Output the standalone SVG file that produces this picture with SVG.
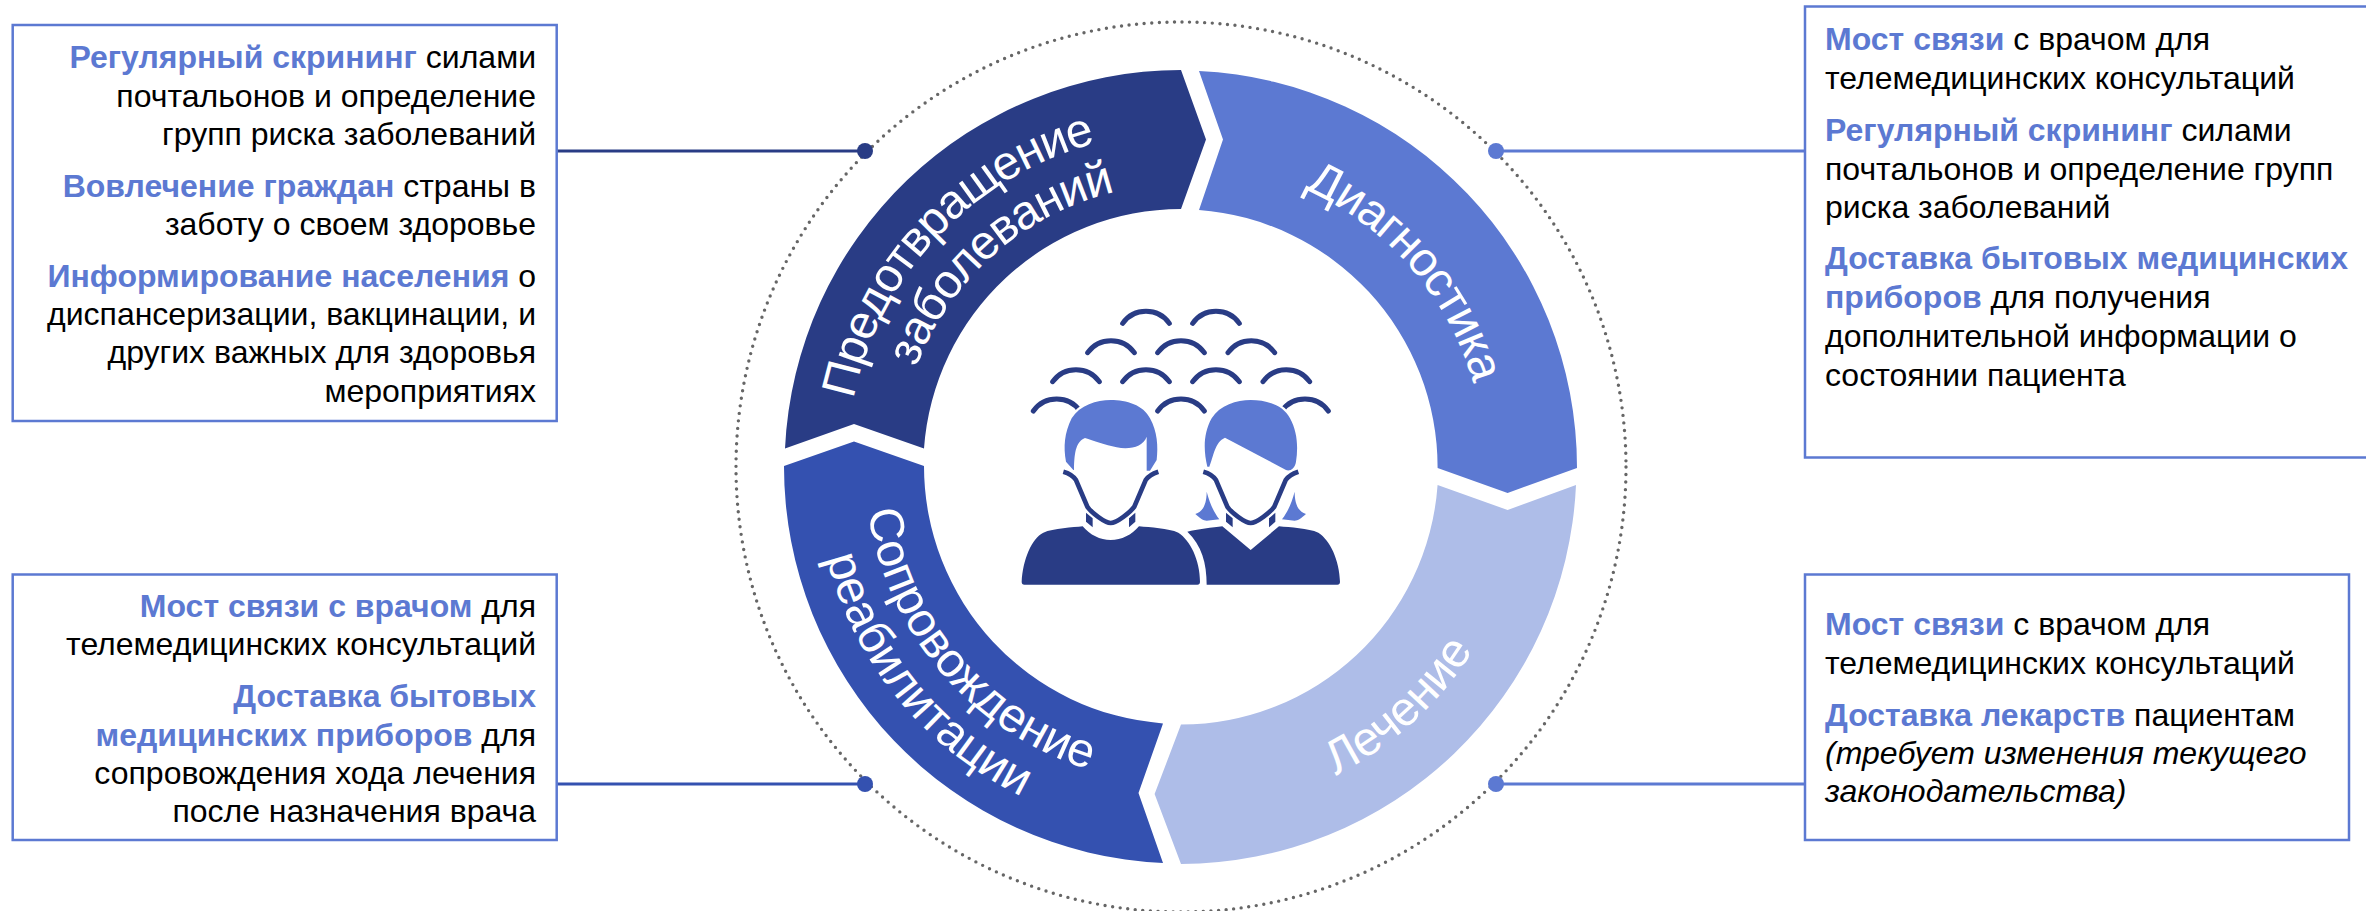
<svg xmlns="http://www.w3.org/2000/svg" xmlns:xlink="http://www.w3.org/1999/xlink" width="2366" height="911" viewBox="0 0 2366 911">
<style>
text{font-family:"Liberation Sans",Arial,sans-serif;font-size:32px;fill:#000}
.b{font-weight:700;fill:#5c79d2}
.r{text-anchor:end}
.box{fill:#fff;stroke:#5c79d2;stroke-width:2.5}
.w{font-size:48px;fill:#fff;text-anchor:middle}
.t{letter-spacing:-1.2px}
.c{fill:none;stroke-width:3}
.ic{fill:none;stroke:#293c85;stroke-width:15;stroke-linecap:round}
</style>
<defs>
<path id="p1" d="M846.6 476.4A335 335 0 0 1 1171.6 132.1"/>
<path id="p2" d="M898.8 446.9A283 283 0 0 1 1195.4 184.4"/>
<path id="p3" d="M1201.2 163.7A304 304 0 0 1 1484.3 488.2"/>
<path id="p4" d="M1164.7 811.6A345 345 0 0 0 1525.6 483.3"/>
<path id="p5" d="M866 442.2A316 316 0 0 0 1156.2 782"/>
<path id="p6" d="M816.8 430.6A366 366 0 0 0 1144.6 831.2"/>
<path id="arc" d="M0 0a86 86 0 0 1 140 0"/>
<g id="jaw">
<path d="M250 545C268 550 280 558 288 570L322 650C332 666 375 699 392 699C410 699 452 666 463 650L497 570C505 558 520 550 535 545" fill="none" stroke="#293c85" stroke-width="14"/>
<path d="M318 668L338 685V712L318 695ZM466 668L447 685V712L466 695Z" fill="#293c85"/>
</g>
</defs>
<circle id="ring" cx="1181" cy="467" r="445" fill="none" stroke="#666" stroke-width="3.4" stroke-linecap="round" stroke-dasharray="0 7.6"/>
<g id="connectors">
<path class="c" stroke="#293c85" d="M557 151H865"/>
<path class="c" stroke="#5c79d2" d="M1496 151H1805"/>
<path class="c" stroke="#3451b0" d="M556 784H865"/>
<path class="c" stroke="#5c79d2" d="M1496 784H1805"/>
<circle cx="865" cy="151" r="8" fill="#293c85"/>
<circle cx="1496" cy="151" r="8" fill="#5c79d2"/>
<circle cx="865" cy="784" r="8" fill="#3451b0"/>
<circle cx="1496" cy="784" r="8" fill="#5c79d2"/>
</g>
<g id="seg-prevention">
<path fill="#293c85" d="M1181 70L1206 139.5L1181 209A258 258 0 0 0 924 448.6L854 424L785 448.6A397 397 0 0 1 1181 70Z"/>
<text class="w t"><textPath xlink:href="#p1" href="#p1" startOffset="50%">Предотвращение</textPath></text>
<text class="w t"><textPath xlink:href="#p2" href="#p2" startOffset="50%">заболеваний</textPath></text>
</g>
<g id="seg-diagnostics">
<path fill="#5c79d2" d="M1199 71L1223 139.5L1199 210A258 258 0 0 1 1437.6 468L1507.6 493L1577 468A397 397 0 0 0 1199 71Z"/>
<text class="w t"><textPath xlink:href="#p3" href="#p3" startOffset="50%">Диагностика</textPath></text>
</g>
<g id="seg-treatment">
<path fill="#aebde8" d="M1437.6 485L1507.6 510L1576 485A397 397 0 0 1 1181 864L1154.6 794L1181 724.6A258 258 0 0 0 1437.6 485Z"/>
<text class="w"><textPath xlink:href="#p4" href="#p4" startOffset="50%">Лечение</textPath></text>
</g>
<g id="seg-rehab">
<path fill="#3451b0" d="M784 466L854 441.6L924 466A258 258 0 0 0 1163 723.4L1138.5 793L1163 863A397 397 0 0 1 784 466Z"/>
<text class="w"><textPath xlink:href="#p5" href="#p5" startOffset="50%">Сопровождение</textPath></text>
<text class="w"><textPath xlink:href="#p6" href="#p6" startOffset="50%">реабилитации</textPath></text>
</g>
<g id="people" transform="translate(980 290) scale(.33333)">
<g class="ic">
<use href="#arc" x="428" y="100"/><use href="#arc" x="638" y="100"/>
<use href="#arc" x="323" y="188"/><use href="#arc" x="533" y="188"/><use href="#arc" x="744" y="188"/>
<use href="#arc" x="218" y="275"/><use href="#arc" x="428" y="275"/><use href="#arc" x="638" y="275"/><use href="#arc" x="849" y="275"/>
<use href="#arc" x="160" y="363"/><use href="#arc" x="533" y="363"/><use href="#arc" x="905" y="363"/>
</g>
<path fill="#5c79d2" stroke="#fff" stroke-width="14" paint-order="stroke" d="M280 540L258 515C250 470 253 430 275 385C300 345 350 330 392 330C440 330 490 345 510 385C532 425 535 470 530 510L510 542H500V440C490 470 450 480 410 472C375 465 340 452 315 444C290 455 283 480 282 540Z"/>
<path fill="#5c79d2" stroke="#fff" stroke-width="14" paint-order="stroke" d="M682 530C670 480 670 430 695 385C720 345 770 330 812 330C860 330 910 345 930 385C952 425 955 470 948 515C945 535 930 545 918 540L735 443C705 455 700 500 688 530Z"/>
<path fill="#5c79d2" d="M680 605C680 640 670 665 646 672C660 685 670 692 680 692L718 688C700 665 690 640 680 605ZM944 605C944 640 954 665 978 672C964 685 954 692 944 692L906 688C924 665 934 640 944 605Z"/>
<use href="#jaw"/>
<use href="#jaw" x="420"/>
<path fill="#293c85" d="M125 875C128 810 155 745 190 728C220 715 280 712 308 709C330 735 360 750 392 750C425 750 455 735 477 709C510 712 565 715 595 728C630 750 660 810 660 875Q660 884 652 884H133Q125 884 125 875Z"/>
<path fill="#293c85" d="M622 725C650 718 700 712 727 709L812 780L897 709C930 712 985 715 1015 728C1050 750 1078 810 1080 875Q1080 884 1072 884H680C680 820 665 765 622 725Z"/>
</g>
<g id="box-tl">
<rect class="box" x="12.7" y="25" width="544" height="396"/>
<text class="r" x="536" y="68"><tspan class="b">Регулярный скрининг</tspan> силами</text>
<text class="r" x="536" y="106.7">почтальонов и определение</text>
<text class="r" x="536" y="145">групп риска заболеваний</text>
<text class="r" x="536" y="196.7"><tspan class="b">Вовлечение граждан</tspan> страны в</text>
<text class="r" x="536" y="235">заботу о своем здоровье</text>
<text class="r" x="536" y="286.7"><tspan class="b">Информирование населения</tspan> о</text>
<text class="r" x="536" y="325">диспансеризации, вакцинации, и</text>
<text class="r" x="536" y="363">других важных для здоровья</text>
<text class="r" x="536" y="401.7">мероприятиях</text>
</g>
<g id="box-tr">
<rect class="box" x="1805" y="6.5" width="600" height="451"/>
<text x="1825" y="50"><tspan class="b">Мост связи</tspan> с врачом для</text>
<text x="1825" y="89.3">телемедицинских консультаций</text>
<text x="1825" y="141"><tspan class="b">Регулярный скрининг</tspan> силами</text>
<text x="1825" y="180">почтальонов и определение групп</text>
<text x="1825" y="218.3">риска заболеваний</text>
<text x="1825" y="269.3" class="b">Доставка бытовых медицинских</text>
<text x="1825" y="308.3"><tspan class="b">приборов</tspan> для получения</text>
<text x="1825" y="346.7">дополнительной информации о</text>
<text x="1825" y="385.7">состоянии пациента</text>
</g>
<g id="box-bl">
<rect class="box" x="12.7" y="574.5" width="544" height="265.5"/>
<text class="r" x="536" y="616.7"><tspan class="b">Мост связи с врачом</tspan> для</text>
<text class="r" x="536" y="655">телемедицинских консультаций</text>
<text class="r b" x="536" y="706.7">Доставка бытовых</text>
<text class="r" x="536" y="745.7"><tspan class="b">медицинских приборов</tspan> для</text>
<text class="r" x="536" y="784">сопровождения хода лечения</text>
<text class="r" x="536" y="821.7">после назначения врача</text>
</g>
<g id="box-br">
<rect class="box" x="1805" y="574.5" width="544" height="265.5"/>
<text x="1825" y="635"><tspan class="b">Мост связи</tspan> с врачом для</text>
<text x="1825" y="674.3">телемедицинских консультаций</text>
<text x="1825" y="725.7"><tspan class="b">Доставка лекарств</tspan> пациентам</text>
<text x="1825" y="764" font-style="italic">(требует изменения текущего</text>
<text x="1825" y="801.7" font-style="italic">законодательства)</text>
</g>
</svg>
